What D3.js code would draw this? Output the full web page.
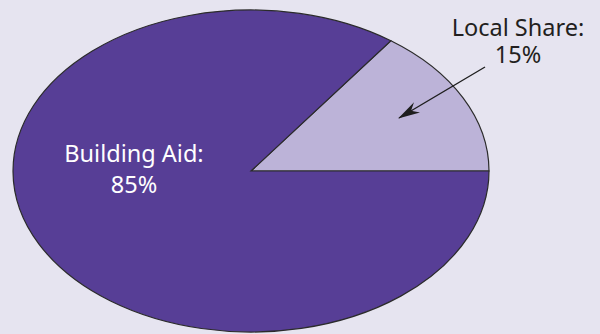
<!DOCTYPE html>
<html>
<head>
<meta charset="utf-8">
<script src="https://cdn.jsdelivr.net/npm/d3@7"></script>
<style>
  html, body { margin: 0; padding: 0; background: #e6e4f0; }
  svg { display: block; }
</style>
</head>
<body>
<svg id="chart" width="600" height="334"></svg>
<script>
// slices
var categories = ['Local Share', 'Building Aid'];
var shares = [15, 85];
var labels = ['Local Share:', 'Building Aid:'];
var colors = ['#bcb3d8', '#573e96'];

var svg = d3.select('#chart');

var cx = 251, cy = 171, rx = 238, ry = 161;

// pie starts at 3 o'clock and goes counterclockwise
var pie = d3.pie()
	.sort(null)
	.value(function (d) { return d; })
	.startAngle(Math.PI / 2)
	.endAngle(Math.PI / 2 - 2 * Math.PI);

var arc = d3.arc().innerRadius(0).outerRadius(rx);

var g = svg.append('g')
	.attr('transform', 'translate(' + cx + ',' + cy + ') scale(1,' + (ry / rx) + ')');

g.selectAll('path')
	.data(pie(shares))
	.enter()
	.append('path')
	.attr('d', arc)
	.attr('fill', function (d, i) { return colors[i]; })
	.attr('stroke', '#2b2b2b')
	.attr('stroke-width', 1.2)
	.attr('vector-effect', 'non-scaling-stroke')
	.attr('stroke-linejoin', 'miter');

// arrow head
svg.append('defs').append('marker')
	.attr('id', 'head')
	.attr('viewBox', '0 0 22 12')
	.attr('refX', 21)
	.attr('refY', 6)
	.attr('markerWidth', 22)
	.attr('markerHeight', 12)
	.attr('markerUnits', 'userSpaceOnUse')
	.attr('orient', 'auto')
	.append('path')
	.attr('d', 'M0,0 L22,6 L0,12 L7,6 Z')
	.attr('fill', '#1e1e1e');

svg.append('line')
	.attr('x1', 485).attr('y1', 67)
	.attr('x2', 399).attr('y2', 118)
	.attr('stroke', '#1e1e1e')
	.attr('stroke-width', 1.4)
	.attr('marker-end', 'url(#head)');

var textPos = [
	{ x: 518, y: 36, dy: 27, fill: '#231f20' },
	{ x: 134, y: 162, dy: 31, fill: '#ffffff' }
];

var pct = d3.format('.0f');

textPos.forEach(function (p, i) {
	var t = svg.append('text')
		.attr('x', p.x)
		.attr('y', p.y)
		.attr('text-anchor', 'middle')
		.style('font-family', 'Noto Sans, sans-serif')
		.style('font-size', '23.5px')
		.style('fill', p.fill);
	t.append('tspan').attr('x', p.x).text(labels[i]);
	t.append('tspan').attr('x', p.x).attr('dy', p.dy).text(pct(shares[i]) + '%');
});
</script>
</body>
</html>
